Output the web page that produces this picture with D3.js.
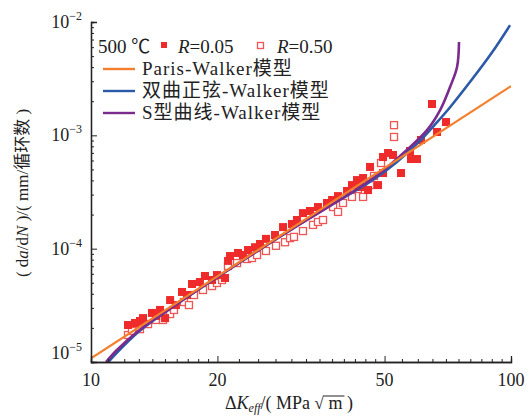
<!DOCTYPE html>
<html>
<head>
<meta charset="utf-8">
<script src="https://cdn.jsdelivr.net/npm/d3@7"></script>
<style>
  body { margin: 0; background: #fff; }
  svg text { font-family: "Liberation Serif", "Noto Sans CJK SC", serif; fill: #222; }
</style>
</head>
<body>
<svg width="530" height="416"></svg>
<script>
var width = 530,
    height = 416,
    margin = { top: 22, right: 19, bottom: 54, left: 91 }

// R = 0.05 (filled squares): [dK_eff, da/dN]
var seriesR005 = [
    [12.25, 2.12e-5], [12.73, 2.21e-5], [13.08, 2.30e-5], [13.30, 2.44e-5], [13.97, 2.71e-5],
    [14.30, 2.55e-5], [14.60, 2.88e-5], [15.01, 2.44e-5], [15.43, 3.52e-5], [15.93, 3.18e-5],
    [16.47, 4.15e-5], [16.93, 3.90e-5], [17.40, 4.88e-5], [18.17, 5.08e-5], [18.68, 5.74e-5],
    [19.42, 5.29e-5], [19.95, 5.85e-5], [20.85, 5.51e-5], [21.20, 7.80e-5], [21.43, 8.61e-5],
    [22.39, 9.16e-5], [23.00, 8.79e-5], [23.65, 9.73e-5], [24.58, 1.03e-4], [25.26, 1.10e-4],
    [26.10, 1.22e-4], [27.42, 1.32e-4], [28.66, 1.55e-4], [30.10, 1.65e-4], [30.93, 1.79e-4],
    [31.97, 2.06e-4], [33.22, 2.15e-4], [34.71, 2.33e-4], [36.47, 2.53e-4], [37.50, 2.69e-4],
    [38.74, 2.91e-4], [40.70, 3.23e-4], [41.82, 3.64e-4], [42.99, 4.03e-4], [43.71, 3.50e-4],
    [44.44, 4.20e-4], [45.66, 3.29e-4], [46.17, 5.26e-4], [48.23, 3.64e-4], [49.58, 6.44e-4],
    [49.58, 4.65e-4], [50.96, 6.98e-4], [52.37, 6.71e-4], [54.72, 4.65e-4], [57.48, 7.27e-4],
    [57.80, 6.18e-4], [59.72, 6.18e-4], [61.05, 9.10e-4], [64.85, 1.89e-3], [66.66, 1.07e-3],
    [70.02, 1.31e-3]
]
// R = 0.50 (open squares)
var seriesR050 = [
    [12.25, 1.73e-5], [12.52, 1.88e-5], [13.08, 1.95e-5], [13.67, 2.16e-5], [14.28, 2.35e-5],
    [14.84, 2.35e-5], [15.43, 2.65e-5], [15.76, 2.88e-5], [16.65, 3.38e-5], [17.11, 3.18e-5],
    [17.59, 3.90e-5], [18.48, 4.32e-5], [19.42, 4.68e-5], [19.95, 4.98e-5], [20.51, 5.29e-5],
    [21.19, 7.03e-5], [22.27, 7.47e-5], [23.52, 8.10e-5], [24.17, 8.27e-5], [24.85, 8.79e-5],
    [26.10, 9.54e-5], [27.57, 1.06e-4], [28.97, 1.14e-4], [29.78, 1.24e-4], [30.43, 1.27e-4],
    [31.97, 1.43e-4], [33.78, 1.62e-4], [34.71, 1.72e-4], [35.68, 1.79e-4], [37.70, 2.33e-4],
    [38.74, 2.11e-4], [39.81, 2.53e-4], [41.82, 2.86e-4], [43.22, 3.36e-4], [44.44, 2.86e-4],
    [45.41, 3.72e-4], [46.17, 3.64e-4], [47.19, 4.38e-4], [49.04, 5.70e-4], [52.66, 1.23e-3],
    [52.66, 9.67e-4]
]

// model curves
var parisWalker = [[10, 1.08e-5], [100, 2.72e-3]]
var sinhWalker = [
    [11.0, 1.00e-5], [11.5, 1.20e-5], [13, 1.86e-5], [15, 2.75e-5], [20, 5.62e-5],
    [30, 1.48e-4], [39.1, 2.69e-4], [46.9, 4.04e-4], [53.5, 5.83e-4], [60.7, 8.95e-4],
    [66.6, 1.30e-3], [71.6, 1.77e-3], [81.2, 3.20e-3], [90, 5.35e-3], [99.5, 9.39e-3]
]
var sCurveWalker = [
    [10.86, 1.00e-5], [11.51, 1.27e-5], [13, 1.90e-5], [15, 2.75e-5], [20, 5.62e-5],
    [30, 1.48e-4], [39.1, 2.69e-4], [48.8, 4.66e-4], [56.5, 7.43e-4], [63.1, 1.11e-3],
    [67.8, 1.67e-3], [71.6, 2.67e-3], [74.4, 4.01e-3], [75.2, 6.65e-3]
]

var xTickLabels = [10, 20, 50, 100]
var xMinorTicks = [11, 12, 13, 14, 15, 16, 17, 18, 19, 22.5, 25, 27.5, 30, 32.5, 35, 37.5, 40, 42.5, 45, 47.5,
    55, 60, 65, 70, 75, 80, 85, 90, 95]
var yTickLabels = [1e-5, 1e-4, 1e-3, 1e-2]
var yExponents = ["\u22125", "\u22124", "\u22123", "\u22122"]

var legendRows = ["Paris-Walker模型", "双曲正弦-Walker模型", "S型曲线-Walker模型"]
var colors = { paris: "#f47f2c", sinh: "#2c59a8", scurve: "#7b2b8b", red: "#ee2a2a" }

var xScale = d3.scaleLog().domain([10, 100]).range([margin.left, width - margin.right])
var yScale = d3.scaleLog().domain([1e-5, 1e-2]).range([height - margin.bottom, margin.top])

var svg = d3.select("svg")

svg.append("clipPath").attr("id", "plot-clip")
    .append("rect")
    .attr("x", margin.left).attr("y", margin.top)
    .attr("width", width - margin.left - margin.right)
    .attr("height", height - margin.top - margin.bottom)

var plot = svg.append("g").attr("clip-path", "url(#plot-clip)")

// open squares
plot.selectAll(".open")
    .data(seriesR050)
    .enter()
    .append("rect")
    .attr("class", "open")
    .attr("x", function(d) { return xScale(d[0]) - 3.5 })
    .attr("y", function(d) { return yScale(d[1]) - 3.5 })
    .attr("width", 7).attr("height", 7)
    .attr("fill", "#fff")
    .attr("stroke", "#f05555")
    .attr("stroke-width", 1.3)

plot.selectAll(".filled")
    .data(seriesR005)
    .enter()
    .append("rect")
    .attr("class", "filled")
    .attr("x", function(d) { return xScale(d[0]) - 4 })
    .attr("y", function(d) { return yScale(d[1]) - 4 })
    .attr("width", 8).attr("height", 8)
    .attr("fill", colors.red)

var line = d3.line()
    .x(function(d) { return xScale(d[0]) })
    .y(function(d) { return yScale(d[1]) })
    .curve(d3.curveCatmullRom.alpha(0.5))

plot.append("path").datum(sinhWalker)
    .attr("d", line).attr("fill", "none").attr("stroke", colors.sinh).attr("stroke-width", 2.6)
plot.append("path").datum(sCurveWalker)
    .attr("d", line).attr("fill", "none").attr("stroke", colors.scurve).attr("stroke-width", 2.6)
plot.append("path").datum(parisWalker)
    .attr("d", line).attr("fill", "none").attr("stroke", colors.paris).attr("stroke-width", 2.2)

// axes, ticks pointing inward
var yMinor = []
for (var e = -5; e < -2; e++) {
    for (var m = 2; m <= 9; m++) yMinor.push(m * Math.pow(10, e))
}

var yAxisG = svg.append("g").attr("transform", "translate(" + margin.left + ",0)")
yAxisG.append("g").call(d3.axisRight(yScale).tickValues(yMinor).tickSize(3).tickFormat(""))
yAxisG.append("g").call(d3.axisRight(yScale).tickValues(yTickLabels).tickSize(6).tickFormat(""))

var xAxisG = svg.append("g").attr("transform", "translate(0," + (height - margin.bottom) + ")")
xAxisG.append("g").call(d3.axisTop(xScale).tickValues(xMinorTicks).tickSize(3).tickFormat(""))
xAxisG.append("g").call(d3.axisTop(xScale).tickValues(xTickLabels).tickSize(6).tickFormat(""))

svg.selectAll(".domain").attr("stroke", "#222").attr("stroke-width", 1.3)
svg.selectAll(".tick line").attr("stroke", "#222").attr("stroke-width", 1)

// y tick labels 10^n
yTickLabels.forEach(function(v, i) {
    var t = svg.append("text")
        .attr("x", 82)
        .attr("y", yScale(v) + (i == 0 ? -3 : 6))
        .attr("text-anchor", "end")
        .style("font-size", "18px")
    t.append("tspan").text("10")
    t.append("tspan").attr("dy", -8).style("font-size", "12px").text(yExponents[i])
})

svg.selectAll(".xlab")
    .data(xTickLabels)
    .enter()
    .append("text")
    .attr("class", "xlab")
    .attr("x", function(d) { return xScale(d) })
    .attr("y", 386)
    .attr("text-anchor", "middle")
    .style("font-size", "18px")
    .text(function(d) { return d })

// x axis title
var xt = svg.append("text").attr("x", 225).attr("y", 409).style("font-size", "18px")
xt.append("tspan").text("Δ")
xt.append("tspan").style("font-style", "italic").text("K")
xt.append("tspan").attr("dy", 3).style("font-size", "12px").style("font-style", "italic").text("eff")
xt.append("tspan").attr("dy", -3).text("/( MPa ")
var sq = xt.append("tspan").style("font-size", "17px").text("√")
var mm = xt.append("tspan").text(" m")
xt.append("tspan").text(" )")
var sb = sq.node().getBBox(), mb = mm.node().getBBox()
svg.append("line")
    .attr("x1", sb.x + sb.width - 1).attr("x2", mb.x + mb.width + 2)
    .attr("y1", sb.y + 2).attr("y2", sb.y + 2)
    .attr("stroke", "#222").attr("stroke-width", 1)

// y axis title
var yt = svg.append("text")
    .attr("transform", "translate(28,193) rotate(-90)")
    .attr("text-anchor", "middle")
    .style("font-size", "17px")
yt.append("tspan").text("( d")
yt.append("tspan").style("font-style", "italic").text("a")
yt.append("tspan").text("/d")
yt.append("tspan").style("font-style", "italic").text("N")
yt.append("tspan").text(" )/( mm/循环数 )")

// legend
var lg = svg.append("g").style("font-size", "19px")
lg.append("text").attr("x", 98).attr("y", 53).text("500 ℃")
lg.append("rect").attr("x", 161).attr("y", 42).attr("width", 6).attr("height", 6).attr("fill", colors.red)
var r1 = lg.append("text").attr("x", 178).attr("y", 53)
r1.append("tspan").style("font-style", "italic").text("R")
r1.append("tspan").text("=0.05")
lg.append("rect").attr("x", 257.5).attr("y", 42.5).attr("width", 6).attr("height", 6)
    .attr("fill", "#fff").attr("stroke", "#f05555").attr("stroke-width", 1.3)
var r2 = lg.append("text").attr("x", 277).attr("y", 53)
r2.append("tspan").style("font-style", "italic").text("R")
r2.append("tspan").text("=0.50")

var legendColors = [colors.paris, colors.sinh, colors.scurve]
legendRows.forEach(function(label, i) {
    var yy = 75 + i * 22
    lg.append("line").attr("x1", 103).attr("x2", 135).attr("y1", yy - 6).attr("y2", yy - 6)
        .attr("stroke", legendColors[i]).attr("stroke-width", 2.4)
    lg.append("text").attr("x", 142).attr("y", yy).style("letter-spacing", "1px").text(label)
})
</script>
</body>
</html>
